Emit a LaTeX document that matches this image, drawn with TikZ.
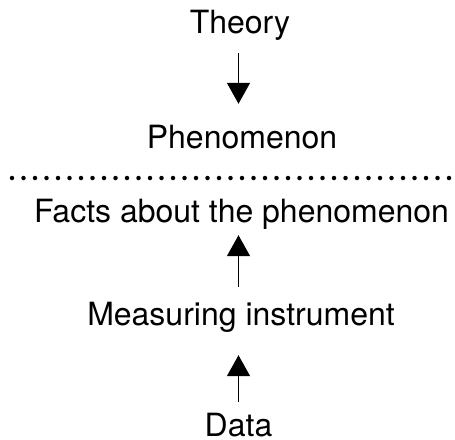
\documentclass[tikz,border=0pt]{standalone}
\usepackage{fontspec}
\setmainfont{TeX Gyre Heros}
\usetikzlibrary{arrows.meta}

\begin{document}
\begin{tikzpicture}[x=1pt, y=-1pt,
        TextStyle/.style = {inner sep=0pt, anchor=base, font=\fontsize{32}{38}\selectfont,
                            text height=23pt, text depth=7pt},
        EdgeStyle/.style = {line width=1.5pt, -{Triangle[width=23pt, length=21pt]}}]
        \useasboundingbox (0,0) rectangle (455,439);
        \node[TextStyle] (Theory) at (240,33) {Theory};
        \node[TextStyle] (Phen) at (242,148) {Phenomenon};
        \node[TextStyle] (Facts) at (241.5,222) {Facts about the phenomenon};
        \node[TextStyle] (Meas) at (241,325) {Measuring instrument};
        \node[TextStyle, text depth=0pt] (Data) at (238.5,436.5) {Data};
        % dotted separator
        \draw[line width=4.5pt, line cap=round, dash pattern=on 0pt off 11.5pt] (12,178) -- (450,178);
        \draw[EdgeStyle, shorten <=13pt, shorten >=21pt] (Theory.south -| Data.north) -- (Phen.north -| Data.north);
        \draw[EdgeStyle, shorten <=15pt, shorten >=6pt] (Meas.north -| Data.north) -- (Facts.south -| Data.north);
        \draw[EdgeStyle, shorten <=11.5pt, shorten >=23pt] (Data.north) -- (Meas.south -| Data.north);
\end{tikzpicture}
\end{document}
